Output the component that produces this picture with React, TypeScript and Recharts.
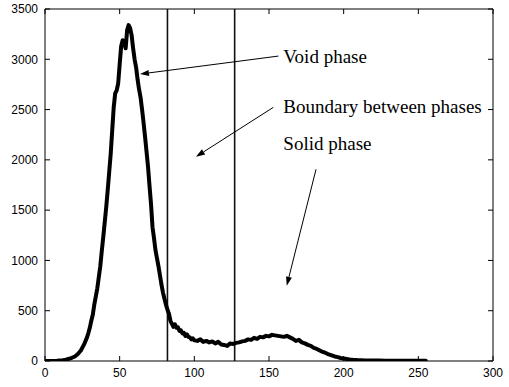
import React from "react";
import { LineChart, Line, XAxis, YAxis, ReferenceLine, ReferenceDot } from "recharts";

const grayLevels = [
  0, 2, 4, 6, 8, 10, 12, 14, 16, 18, 20, 22, 24, 26, 28, 29, 30, 31, 32, 33, 34, 35, 36, 37, 38, 39,
  40, 41, 42, 43, 44, 45, 46, 47, 48, 49, 50, 51, 52, 53, 54, 55, 56, 57, 58, 59, 60, 61, 62, 63, 64,
  65, 66, 67, 68, 69, 70, 71, 72, 73, 74, 75, 76, 77, 78, 79, 80, 81, 82, 83, 84, 85, 86, 87, 88, 89,
  90, 91, 92, 93, 94, 95, 96, 97, 98, 99, 100, 102, 104, 106, 108, 110, 112, 114, 116, 118, 120, 122,
  124, 126, 128, 130, 132, 134, 136, 138, 140, 142, 144, 146, 148, 150, 152, 154, 156, 158, 160, 162,
  164, 166, 168, 170, 172, 174, 176, 178, 180, 182, 184, 186, 188, 190, 192, 194, 196, 198, 200, 202,
  204, 206, 208, 210, 212, 214, 216, 218, 220, 224, 228, 232, 236, 240, 244, 248, 252, 255,
];

const pixelCounts = [
  0, 0, 0, 0, 2, 5, 8, 14, 22, 32, 45, 70, 105, 160, 230, 275, 330, 400, 460, 560, 640, 720, 830, 940, 1090, 1230,
  1380, 1530, 1700, 1880, 2060, 2290, 2520, 2660, 2690, 2760, 2950, 3130, 3190, 3170, 3110, 3290, 3340, 3310, 3240, 3110, 3000, 2920, 2800, 2700, 2620,
  2500, 2370, 2230, 2080, 1930, 1740, 1560, 1330, 1220, 1100, 1020, 940, 850, 760, 680, 620, 560, 510, 470, 400, 370, 340, 365, 330, 335,
  300, 305, 275, 280, 250, 265, 240, 235, 215, 225, 205, 200, 215, 190, 200, 185, 195, 175, 190, 165, 160, 150,
  175, 170, 180, 185, 195, 200, 215, 210, 230, 220, 240, 235, 250, 245, 260, 255, 250, 245, 240, 250,
  235, 220, 200, 210, 185, 175, 160, 150, 130, 120, 105, 90, 80, 65, 55, 45, 38, 30, 25, 20,
  15, 12, 10, 8, 7, 6, 5, 5, 4, 4, 3, 3, 3, 2, 2, 2, 2, 2,
];

const xTicks = [0, 50, 100, 150, 200, 250, 300];
const yTicks = [0, 500, 1000, 1500, 2000, 2500, 3000, 3500];
const phaseBounds = [82, 127];

const labelTexts = ["Void phase", "Boundary between phases", "Solid phase"];
const labelX = [159.6, 159.6, 159.6];
const labelY = [2959, 2468, 2097];

const arrowFrom = [
  { x: 156.3, y: 3032 },
  { x: 152.9, y: 2522 },
  { x: 181.5, y: 1906 },
];
const arrowTo = [
  { x: 63.6, y: 2853 },
  { x: 101.1, y: 2031 },
  { x: 161.9, y: 749 },
];

const data = grayLevels.map((g, i) => ({ g, n: pixelCounts[i] }));

const TICK_LEN = 5;

const XTickShape = (p: any) => {
  const x = p.x1;
  const top = Math.min(p.y1, p.y2);
  const bot = Math.max(p.y1, p.y2);
  return (
    <g>
      <line x1={x} y1={top} x2={x} y2={top + TICK_LEN} stroke="#000" strokeWidth={1} />
      <line x1={x} y1={bot} x2={x} y2={bot - TICK_LEN} stroke="#000" strokeWidth={1} />
    </g>
  );
};

const YTickShape = (p: any) => {
  const y = p.y1;
  const left = Math.min(p.x1, p.x2);
  const right = Math.max(p.x1, p.x2);
  return (
    <g>
      <line x1={left} y1={y} x2={left + TICK_LEN} y2={y} stroke="#000" strokeWidth={1} />
      <line x1={right} y1={y} x2={right - TICK_LEN} y2={y} stroke="#000" strokeWidth={1} />
    </g>
  );
};

const ArrowShape = (p: any) => {
  const { x1, y1, x2, y2 } = p;
  const dx = x2 - x1;
  const dy = y2 - y1;
  const len = Math.sqrt(dx * dx + dy * dy) || 1;
  const ux = dx / len;
  const uy = dy / len;
  const hl = 9;
  const hw = 3;
  const bx = x2 - ux * hl;
  const by = y2 - uy * hl;
  const pts = `${x2},${y2} ${bx - uy * hw},${by + ux * hw} ${bx + uy * hw},${by - ux * hw}`;
  return (
    <g>
      <line x1={x1} y1={y1} x2={bx} y2={by} stroke="#000" strokeWidth={1} />
      <polygon points={pts} fill="#000" stroke="none" />
    </g>
  );
};

const makeTextShape = (text: string) => (p: any) => (
  <text
    x={p.cx}
    y={p.cy}
    fontFamily="'Liberation Serif', 'Times New Roman', serif"
    fontSize={19}
    fill="#000"
  >
    {text}
  </text>
);

const tickStyle = { fill: "#000", fontSize: 12, fontFamily: "'Liberation Sans', Arial, sans-serif" };

export default function App() {
  return (
    <div style={{ position: "absolute", left: 0, top: 0, background: "#fff" }}>
      <LineChart width={509} height={387} data={data} margin={{ top: 9, right: 16, bottom: 0, left: 0 }}>
        <XAxis
          dataKey="g"
          type="number"
          domain={[0, 300]}
          ticks={xTicks}
          interval={0}
          height={26}
          tickLine={false}
          tickSize={5}
          tickMargin={2}
          axisLine={{ stroke: "#000", strokeWidth: 1 }}
          tick={tickStyle}
          allowDataOverflow
        />
        <YAxis
          type="number"
          domain={[0, 3500]}
          ticks={yTicks}
          interval={0}
          width={45}
          tickLine={false}
          tickSize={5}
          tickMargin={2}
          axisLine={{ stroke: "#000", strokeWidth: 1 }}
          tick={tickStyle}
          allowDataOverflow
        />
        <ReferenceLine y={3500} stroke="#000" strokeWidth={1} />
        <ReferenceLine x={300} stroke="#000" strokeWidth={1} />
        {xTicks.map((t) => (
          <ReferenceLine key={"xt" + t} x={t} shape={XTickShape} />
        ))}
        {yTicks.map((t) => (
          <ReferenceLine key={"yt" + t} y={t} shape={YTickShape} />
        ))}
        {phaseBounds.map((b) => (
          <ReferenceLine key={"pb" + b} x={b} stroke="#111" strokeWidth={1.6} />
        ))}
        <Line
          dataKey="n"
          type="linear"
          stroke="#000"
          strokeWidth={4}
          strokeLinejoin="round"
          strokeLinecap="round"
          dot={false}
          activeDot={false}
          isAnimationActive={false}
        />
        {arrowFrom.map((a, i) => (
          <ReferenceLine key={"ar" + i} segment={[a, arrowTo[i]]} shape={ArrowShape} />
        ))}
        {labelTexts.map((t, i) => (
          <ReferenceDot key={"lb" + i} x={labelX[i]} y={labelY[i]} r={0} shape={makeTextShape(t)} />
        ))}
      </LineChart>
    </div>
  );
}
